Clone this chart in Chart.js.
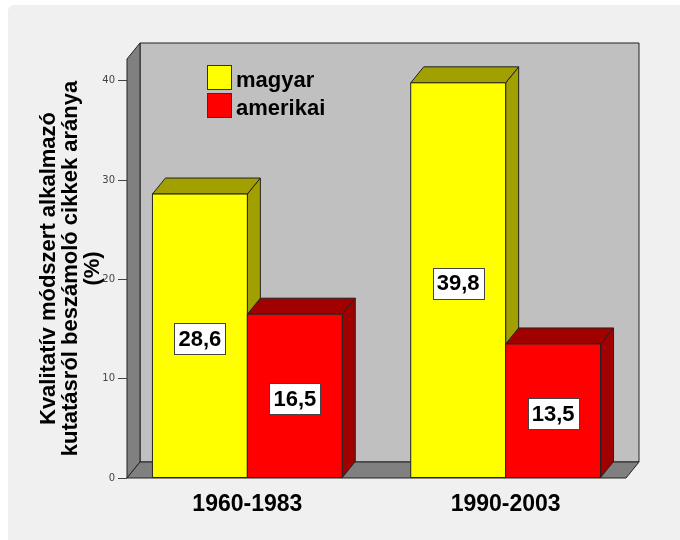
<!DOCTYPE html>
<html lang="hu">
<head>
    <meta charset="UTF-8">
    <title>Kvalitatív módszert alkalmazó cikkek aránya</title>
    <script src="https://cdn.jsdelivr.net/npm/chart.js"></script>
    <style>
        body { margin: 0; padding: 0; background: #fff; }
        .wrap { width: 680px; height: 540px; }
    </style>
</head>
<body>
<div class="wrap"><canvas id="chart" width="680" height="540"></canvas></div>
<script>
    // data
    const categories = ['1960-1983', '1990-2003'];
    const magyarValues = [28.6, 39.8];
    const amerikaiValues = [16.5, 13.5];
    const yTicks = [0, 10, 20, 30, 40];
    const seriesNames = ['magyar', 'amerikai'];

    // depth of the fake 3d box
    const DX = 13, DY = 16;

    function poly(ctx, pts, fill, stroke) {
        ctx.beginPath();
        ctx.moveTo(pts[0][0], pts[0][1]);
        for (let i = 1; i < pts.length; i++) ctx.lineTo(pts[i][0], pts[i][1]);
        ctx.closePath();
        ctx.fillStyle = fill;
        ctx.fill();
        ctx.strokeStyle = stroke || '#222';
        ctx.lineWidth = 1;
        ctx.stroke();
    }

    const scene3d = {
        id: 'scene3d',
        beforeDraw(chart) {
            const { ctx, width, height, chartArea: a } = chart;
            ctx.save();
            ctx.fillStyle = '#ffffff';
            ctx.fillRect(0, 0, width, height);
            ctx.fillStyle = '#f0f0f0';
            ctx.beginPath();
            ctx.roundRect(8, 5, width, height, 6);
            ctx.fill();
            // back wall, side wall, floor
            poly(ctx, [[a.left + DX, a.top - DY], [a.right + DX, a.top - DY], [a.right + DX, a.bottom - DY], [a.left + DX, a.bottom - DY]], '#c0c0c0');
            poly(ctx, [[a.left, a.bottom], [a.left, a.top], [a.left + DX, a.top - DY], [a.left + DX, a.bottom - DY]], '#808080');
            poly(ctx, [[a.left, a.bottom], [a.right, a.bottom], [a.right + DX, a.bottom - DY], [a.left + DX, a.bottom - DY]], '#808080');
            ctx.restore();
        },
        afterDatasetsDraw(chart) {
            const ctx = chart.ctx;
            ctx.save();
            // bars: side, top, front, dataset by dataset
            chart.data.datasets.forEach((ds, di) => {
                chart.getDatasetMeta(di).data.forEach(el => {
                    const l = el.x - el.width / 2, r = el.x + el.width / 2;
                    const t = el.y, b = el.base;
                    poly(ctx, [[r, t], [r + DX, t - DY], [r + DX, b - DY], [r, b]], ds.sideColor);
                    poly(ctx, [[l, t], [l + DX, t - DY], [r + DX, t - DY], [r, t]], ds.sideColor);
                    poly(ctx, [[l, t], [r, t], [r, b], [l, b]], ds.backgroundColor);
                });
            });
            // value boxes
            ctx.font = 'bold 22px "Liberation Sans", Arial, sans-serif';
            ctx.textAlign = 'center';
            ctx.textBaseline = 'middle';
            chart.data.datasets.forEach((ds, di) => {
                chart.getDatasetMeta(di).data.forEach((el, i) => {
                    const txt = ds.data[i].y.toFixed(1).replace('.', ',');
                    const w = ctx.measureText(txt).width + 8, h = 31;
                    const cx = el.x, cy = (el.y + el.base) / 2 + 3;
                    ctx.fillStyle = '#fff';
                    ctx.fillRect(Math.round(cx - w / 2) + 0.5, Math.round(cy - h / 2) + 0.5, Math.round(w), h);
                    ctx.strokeStyle = '#444';
                    ctx.lineWidth = 1;
                    ctx.strokeRect(Math.round(cx - w / 2) + 0.5, Math.round(cy - h / 2) + 0.5, Math.round(w), h);
                    ctx.fillStyle = '#000';
                    ctx.fillText(txt, cx, cy + 1);
                });
            });
            // legend inside the box
            const a = chart.chartArea;
            ctx.textAlign = 'left';
            ctx.textBaseline = 'alphabetic';
            chart.data.datasets.forEach((ds, di) => {
                const bx = a.left + 80, by = a.top + 6 + di * 28;
                ctx.fillStyle = ds.backgroundColor;
                ctx.fillRect(bx + 0.5, by + 0.5, 24, 24);
                ctx.strokeStyle = '#333';
                ctx.strokeRect(bx + 0.5, by + 0.5, 24, 24);
                ctx.fillStyle = '#000';
                ctx.fillText(ds.label, bx + 29, by + 22);
            });
            ctx.restore();
        }
    };

    const ctx = document.getElementById('chart').getContext('2d');
    const chart = new Chart(ctx, {
        type: 'bar',
        data: {
            datasets: [
                {
                    label: seriesNames[0],
                    data: categories.map((c, i) => ({ x: i + 1, y: magyarValues[i] })),
                    backgroundColor: '#ffff00',
                    sideColor: '#a2a000',
                    borderColor: '#222',
                    borderWidth: 1,
                    barPercentage: 1,
                    categoryPercentage: 0.735
                },
                {
                    label: seriesNames[1],
                    data: categories.map((c, i) => ({ x: i + 1, y: amerikaiValues[i] })),
                    backgroundColor: '#ff0000',
                    sideColor: '#a00000',
                    borderColor: '#222',
                    borderWidth: 1,
                    barPercentage: 1,
                    categoryPercentage: 0.735
                }
            ]
        },
        options: {
            responsive: false,
            animation: false,
            devicePixelRatio: 1,
            layout: { padding: { top: 59, right: 54, left: 0, bottom: 0 } },
            plugins: {
                legend: { display: false },
                tooltip: { enabled: false }
            },
            scales: {
                x: {
                    type: 'linear',
                    bounds: 'data',
                    min: 0.534,
                    max: 2.466,
                    offset: false,
                    afterFit(s) { s.height = 62; },
                    afterBuildTicks(s) { s.ticks = categories.map((c, i) => ({ value: i + 1 })); },
                    ticks: {
                        callback: (v, i) => categories[i],
                        autoSkip: false,
                        maxRotation: 0,
                        padding: 13,
                        color: '#000',
                        font: { family: '"Liberation Sans", Arial, sans-serif', size: 23, weight: 'bold' }
                    },
                    grid: { display: false, drawTicks: false },
                    border: { display: false }
                },
                y: {
                    bounds: 'data',
                    min: 0,
                    max: 42.2,
                    afterFit(s) { s.width = 127; },
                    afterBuildTicks(s) { s.ticks = yTicks.map(v => ({ value: v })); },
                    ticks: {
                        padding: 3,
                        color: '#444',
                        font: { family: '"DejaVu Sans", sans-serif', size: 10 }
                    },
                    grid: { drawOnChartArea: false, tickLength: 9, color: '#444' },
                    border: { display: false },
                    title: {
                        display: true,
                        text: ['Kvalitatív módszert alkalmazó', 'kutatásról beszámoló cikkek aránya', '(%)'],
                        color: '#000',
                        padding: { top: 38, bottom: 0 },
                        font: { family: '"Liberation Sans", Arial, sans-serif', size: 22, weight: 'bold', lineHeight: 1.0 }
                    }
                }
            }
        },
        plugins: [scene3d]
    });
</script>
</body>
</html>
